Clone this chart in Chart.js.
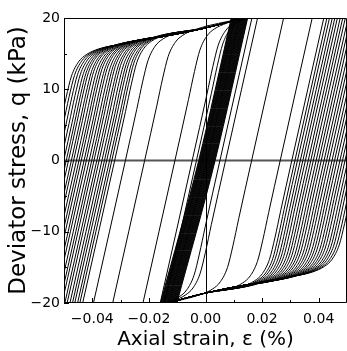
<!DOCTYPE html>
<html><head><meta charset="utf-8">
<script src="https://cdn.jsdelivr.net/npm/chart.js@4.4.1/dist/chart.umd.min.js"></script>
<style>html,body{margin:0;padding:0;background:#fff;overflow:hidden}</style>
</head><body>
<canvas id="c" width="347" height="351"></canvas>
<script>
// ---- axes ----
const xTickValues = [-0.04, -0.02, 0, 0.02, 0.04];
const xTickLabels = ['−0.04', '−0.02', '0.00', '0.02', '0.04'];
const xMinorTicks = [-0.03, -0.01, 0.01, 0.03];
const yTickValues = [-20, -10, 0, 10, 20];
const yTickLabels = ['−20', '−10', '0', '10', '20'];
const yMinorTicks = [-15, -5, 5, 15];

// ---- data ----
// strain (%) where each loading branch (left side) crosses q = 0
const loadingZeroX = [-0.0541, -0.0531, -0.0521, -0.0511, -0.0501, -0.0492, -0.0484,
  -0.0474, -0.0466, -0.0456, -0.0447, -0.0439, -0.0429, -0.0421, -0.0411, -0.0402, -0.0394, -0.0384,
  -0.0376, -0.0366, -0.0357, -0.0349, -0.0339, -0.0331, -0.0321, -0.0283, -0.0215, -0.0108, -0.0047, -0.0032];
// strain (%) where each unloading branch (right side) crosses q = 0
const unloadingZeroX = [0.0051, 0.0071, 0.0163, 0.0264, 0.0305, 0.0316, 0.0325, 0.0335, 0.0344, 0.0353,
  0.0363, 0.0372, 0.0381, 0.0391, 0.0400, 0.0409, 0.0419, 0.0428, 0.0437, 0.0447, 0.0456, 0.0465,
  0.0475, 0.0484, 0.0493, 0.0503, 0.0512, 0.0521, 0.0531, 0.0540];
// small early loops in the central band: q = 0 crossings
const bandZeroX = [-0.0024, -0.0022, -0.0020, -0.0018, -0.0016, -0.0014, -0.0012, -0.0011, -0.0009, -0.0007,
  -0.0005, -0.0003, -0.0001, 0.0001, 0.0003, 0.0005, 0.0006, 0.0008, 0.0010, 0.0012, 0.0014, 0.0016,
  0.0018, 0.0020, 0.0022, 0.0024, 0.0026, 0.0028, 0.0030, 0.0032, 0.0034];
// upper yield envelope (strain %, q kPa); the lower one is its point reflection
const envX = [-0.070, -0.045, -0.030, -0.015, 0.000, 0.013, 0.030];
const envQ = [12.9, 15.0, 16.3, 17.4, 18.6, 20.0, 22.2];
// strain change of the steep branches per 20 kPa
const steepDx = 0.0113;
const bandDxBelow = 0.0135, bandDxAbove = 0.0115;
// rounded knee where a steep branch joins the envelope (offsets from the corner)
const kneeDx = [-0.0057, -0.0036, -0.0017, 0.0008, 0.0035, 0.0078];
const kneeDq = [-10.0, -6.1, -3.1, -1.1, -0.1, 0.7];

function envAt(x) {
  for (let i = 0; i < envX.length - 1; i++) {
    if (x <= envX[i + 1] || i === envX.length - 2) {
      const t = (x - envX[i]) / (envX[i + 1] - envX[i]);
      return envQ[i] + t * (envQ[i + 1] - envQ[i]);
    }
  }
}
function loadingCurve(x0) {
  const steep = x => 20 * (x - x0) / steepDx;
  let a = x0, b = x0 + 0.03;
  for (let k = 0; k < 60; k++) { const m = (a + b) / 2; if (steep(m) < envAt(m)) a = m; else b = m; }
  const xk = a, qk = steep(a);
  const pts = [
    { x: x0 - 1.25 * steepDx, y: -25 },
    { x: x0 - steepDx, y: -20 },
    { x: x0, y: 0 }
  ];
  kneeDx.forEach((dx, i) => { if (qk + kneeDq[i] > 1) pts.push({ x: xk + dx, y: qk + kneeDq[i] }); });
  envX.forEach((ex, i) => { if (ex > xk + 0.012) pts.push({ x: ex, y: envQ[i] }); });
  return pts;
}
function unloadingCurve(z) {
  return loadingCurve(-z).map(p => ({ x: -p.x, y: -p.y })).reverse();
}
function bandLine(z) {
  return [
    { x: z - bandDxBelow * 1.25, y: -25 },
    { x: z - bandDxBelow, y: -20 },
    { x: z, y: 0 },
    { x: z + bandDxAbove, y: 20 },
    { x: z + bandDxAbove * 1.25, y: 25 }
  ];
}

const datasets = [];
const lineStyle = { showLine: true, borderColor: '#000', borderWidth: 1, pointRadius: 0,
  cubicInterpolationMode: 'monotone', fill: false };
loadingZeroX.forEach(z => datasets.push(Object.assign({ data: loadingCurve(z) }, lineStyle)));
unloadingZeroX.forEach(z => datasets.push(Object.assign({ data: unloadingCurve(z) }, lineStyle)));
bandZeroX.forEach(z => datasets.push(Object.assign({ data: bandLine(z) }, lineStyle)));

const FONT = 'DejaVu Sans';

const framePlugin = {
  id: 'frame',
  beforeDatasetsDraw(chart) {
    const { ctx, chartArea: a, scales: { x, y } } = chart;
    ctx.save();
    ctx.lineWidth = 2; ctx.strokeStyle = '#555';
    const y0 = y.getPixelForValue(0);
    ctx.beginPath(); ctx.moveTo(a.left, y0); ctx.lineTo(a.right, y0); ctx.stroke();
    ctx.restore();
  },
  afterDatasetsDraw(chart) {
    const { ctx, chartArea: a, scales: { x, y } } = chart;
    ctx.save();
    ctx.strokeStyle = '#000'; ctx.lineWidth = 1;
    const x0 = Math.round(x.getPixelForValue(0)) + 0.5;
    ctx.beginPath(); ctx.moveTo(x0, a.top); ctx.lineTo(x0, a.bottom); ctx.stroke();
    ctx.beginPath();
    ctx.moveTo(a.left + 0.5, a.top + 0.5); ctx.lineTo(a.right - 0.5, a.top + 0.5);
    ctx.lineTo(a.right - 0.5, a.bottom - 0.5); ctx.lineTo(a.left + 0.5, a.bottom - 0.5); ctx.closePath();
    ctx.stroke();
    ctx.beginPath();
    const tickX = (v, len) => { const p = Math.round(x.getPixelForValue(v)) + 0.5; ctx.moveTo(p, a.bottom); ctx.lineTo(p, a.bottom - len); };
    const tickY = (v, len) => { const p = Math.round(y.getPixelForValue(v)) + 0.5; ctx.moveTo(a.left, p); ctx.lineTo(a.left + len, p); };
    xTickValues.forEach(v => tickX(v, 5)); xMinorTicks.forEach(v => tickX(v, 3));
    yTickValues.forEach(v => tickY(v, 5)); yMinorTicks.forEach(v => tickY(v, 3));
    ctx.stroke();
    ctx.restore();
  }
};

new Chart(document.getElementById('c'), {
  type: 'scatter',
  data: { datasets },
  options: {
    responsive: false, animation: false, events: [],
    layout: { padding: { top: 18, right: 0, left: 0, bottom: 0 } },
    elements: { line: { capBezierPoints: false } },
    plugins: { legend: { display: false }, tooltip: { enabled: false } },
    scales: {
      x: {
        type: 'linear', min: -0.05, max: 0.05,
        afterBuildTicks: s => { s.ticks = xTickValues.map(v => ({ value: v })); },
        afterFit: s => { s.height = 48; },
        grid: { display: false, drawTicks: false }, border: { display: false },
        ticks: { padding: 8, color: '#000', font: { family: FONT, size: 14 }, maxRotation: 0, autoSkip: false,
          callback: (v) => { const i = xTickValues.indexOf(v); return i >= 0 ? xTickLabels[i] : ''; } },
        title: { display: true, text: 'Axial strain, ε (%)', color: '#000', font: { family: FONT, size: 20, lineHeight: 1 }, padding: { top: 0, bottom: 1 } }
      },
      y: {
        type: 'linear', min: -20, max: 20,
        afterBuildTicks: s => { s.ticks = yTickValues.map(v => ({ value: v })); },
        afterFit: s => { s.width = 64; },
        grid: { display: false, drawTicks: false }, border: { display: false },
        ticks: { padding: 4, color: '#000', font: { family: FONT, size: 14 },
          callback: (v) => { const i = yTickValues.indexOf(v); return i >= 0 ? yTickLabels[i] : ''; } },
        title: { display: true, text: 'Deviator stress, q (kPa)', color: '#000', font: { family: FONT, size: 23, lineHeight: 1 }, padding: { top: 8, bottom: 0 } }
      }
    }
  },
  plugins: [framePlugin]
});
</script>
</body></html>
